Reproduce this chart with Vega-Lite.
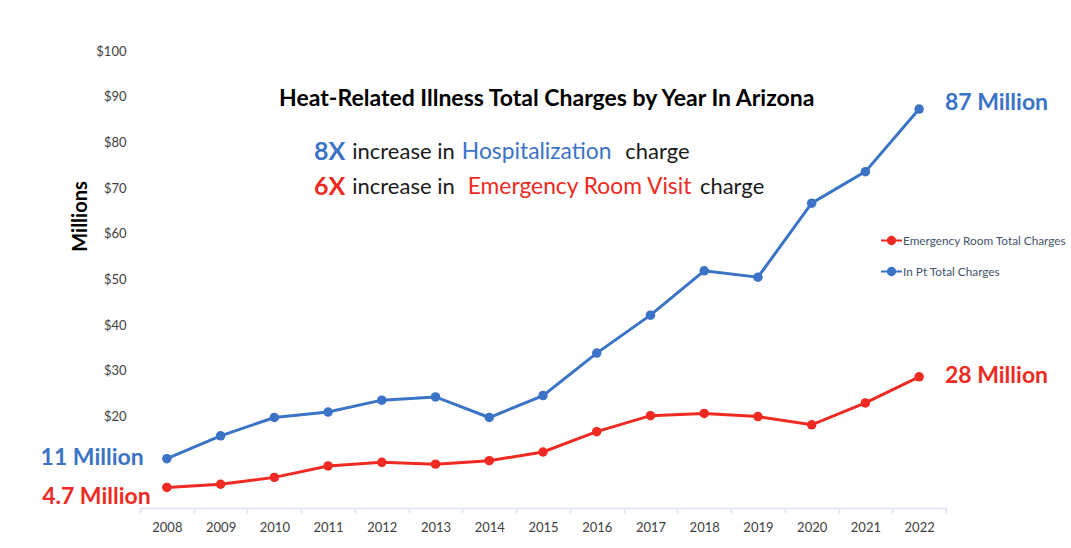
{
  "$schema": "https://vega.github.io/schema/vega-lite/v6.json",
  "width": 806,
  "height": 457,
  "autosize": {"type": "none"},
  "padding": {"left": 140, "top": 51, "right": 125, "bottom": 40},
  "background": "white",
  "config": {"view": {"stroke": null}, "font": "Lato", "text": {"font": "Lato"}},
  "datasets": {
    "series": [
      {"year": 2008, "series": "In Pt Total Charges", "value": 10.8},
      {"year": 2009, "series": "In Pt Total Charges", "value": 15.8},
      {"year": 2010, "series": "In Pt Total Charges", "value": 19.8},
      {"year": 2011, "series": "In Pt Total Charges", "value": 21.0},
      {"year": 2012, "series": "In Pt Total Charges", "value": 23.6},
      {"year": 2013, "series": "In Pt Total Charges", "value": 24.3},
      {"year": 2014, "series": "In Pt Total Charges", "value": 19.8},
      {"year": 2015, "series": "In Pt Total Charges", "value": 24.6},
      {"year": 2016, "series": "In Pt Total Charges", "value": 33.9},
      {"year": 2017, "series": "In Pt Total Charges", "value": 42.2},
      {"year": 2018, "series": "In Pt Total Charges", "value": 51.9},
      {"year": 2019, "series": "In Pt Total Charges", "value": 50.5},
      {"year": 2020, "series": "In Pt Total Charges", "value": 66.7},
      {"year": 2021, "series": "In Pt Total Charges", "value": 73.6},
      {"year": 2022, "series": "In Pt Total Charges", "value": 87.3},
      {"year": 2008, "series": "Emergency Room Total Charges", "value": 4.5},
      {"year": 2009, "series": "Emergency Room Total Charges", "value": 5.2},
      {"year": 2010, "series": "Emergency Room Total Charges", "value": 6.7},
      {"year": 2011, "series": "Emergency Room Total Charges", "value": 9.2},
      {"year": 2012, "series": "Emergency Room Total Charges", "value": 10.0},
      {"year": 2013, "series": "Emergency Room Total Charges", "value": 9.6},
      {"year": 2014, "series": "Emergency Room Total Charges", "value": 10.35},
      {"year": 2015, "series": "Emergency Room Total Charges", "value": 12.25},
      {"year": 2016, "series": "Emergency Room Total Charges", "value": 16.7},
      {"year": 2017, "series": "Emergency Room Total Charges", "value": 20.2},
      {"year": 2018, "series": "Emergency Room Total Charges", "value": 20.7},
      {"year": 2019, "series": "Emergency Room Total Charges", "value": 20.0},
      {"year": 2020, "series": "Emergency Room Total Charges", "value": 18.2},
      {"year": 2021, "series": "Emergency Room Total Charges", "value": 23.0},
      {"year": 2022, "series": "Emergency Room Total Charges", "value": 28.7}
    ]
  },
  "resolve": {"scale": {"x": "independent"}},
  "layer": [
    {
      "encoding": {
        "x": {
          "field": "year",
          "type": "ordinal",
          "bandPosition": 0.5,
          "scale": {"type": "band", "paddingInner": 0, "paddingOuter": 0},
          "axis": {
            "title": null,
            "labelAngle": 0,
            "tickBand": "extent",
            "domainColor": "#D9E1F2",
            "domainWidth": 1.5,
            "tickColor": "#D9E1F2",
            "tickWidth": 1.5,
            "tickSize": 5,
            "labelFontSize": 13,
            "labelColor": "#404040",
            "labelPadding": 8
          }
        },
        "y": {
          "field": "value",
          "type": "quantitative",
          "scale": {"domain": [0, 100], "nice": false},
          "axis": {
            "values": [20, 30, 40, 50, 60, 70, 80, 90, 100],
            "labelExpr": "'$' + datum.value",
            "ticks": false,
            "domain": false,
            "grid": false,
            "labelPadding": 14,
            "labelFontSize": 13,
            "labelColor": "#404040",
            "title": "Millions",
            "titleFontSize": 20,
            "titleFontWeight": "bold",
            "titleColor": "black",
            "titleBaseline": "middle",
            "titleX": -60,
            "titleY": 165
          }
        },
        "color": {
          "field": "series",
          "type": "nominal",
          "scale": {
            "domain": ["Emergency Room Total Charges", "In Pt Total Charges"],
            "range": ["#EE2A22", "#3B73C6"]
          },
          "legend": {
            "orient": "none",
            "legendX": 740,
            "legendY": 178,
            "title": null,
            "labelFontSize": 11.8,
            "labelColor": "#44546A",
            "labelOffset": 0,
            "labelLimit": 300,
            "rowPadding": 11,
            "symbolType": "M-1,0H1M0.35,0A0.35,0.35,0,1,1,-0.35,0A0.35,0.35,0,1,1,0.35,0Z",
            "symbolSize": 441,
            "symbolStrokeWidth": 2,
            "encode": {
              "symbols": {
                "update": {
                  "fill": {"scale": "color", "field": "value"},
                  "stroke": {"scale": "color", "field": "value"},
                  "fillOpacity": {"value": 1}
                }
              }
            }
          }
        }
      },
      "layer": [
        {"data": {"name": "series"}, "mark": {"type": "line", "strokeWidth": 3}},
        {"data": {"name": "series"}, "mark": {"type": "circle", "size": 90, "opacity": 1}}
      ]
    },
    {
      "encoding": {
        "x": {"field": "xpos", "type": "quantitative", "scale": {"domain": [2007.5, 2022.5], "nice": false, "zero": false}, "axis": null},
        "y": {"field": "yval", "type": "quantitative", "scale": {"domain": [0, 100], "nice": false}},
        "text": {"field": "label"}
      },
      "layer": [
        {
          "data": {"values": [{"xpos": 2015.07, "yval": 89.5, "label": "Heat-Related Illness Total Charges by Year In Arizona"}]},
          "mark": {"type": "text", "align": "center", "baseline": "middle", "fontSize": 23, "fontWeight": "bold", "color": "#000000"}
        },
        {
          "data": {"values": [
            {"xpos": 2010.74, "yval": 77.9, "label": "8X", "series": "In Pt Total Charges"},
            {"xpos": 2010.74, "yval": 70.2, "label": "6X", "series": "Emergency Room Total Charges"}
          ]},
          "mark": {"type": "text", "align": "left", "baseline": "middle", "fontSize": 25, "fontWeight": "bold"},
          "encoding": {"color": {"field": "series", "type": "nominal", "legend": null}}
        },
        {
          "data": {"values": [
            {"xpos": 2011.45, "yval": 77.9, "label": "increase in"},
            {"xpos": 2011.45, "yval": 70.2, "label": "increase in"},
            {"xpos": 2016.53, "yval": 77.9, "label": "charge"},
            {"xpos": 2017.92, "yval": 70.2, "label": "charge"}
          ]},
          "mark": {"type": "text", "align": "left", "baseline": "middle", "fontSize": 22, "color": "#1a1a1a"}
        },
        {
          "data": {"values": [
            {"xpos": 2013.49, "yval": 77.9, "label": "Hospitalization", "series": "In Pt Total Charges"},
            {"xpos": 2013.6, "yval": 70.2, "label": "Emergency Room Visit", "series": "Emergency Room Total Charges"}
          ]},
          "mark": {"type": "text", "align": "left", "baseline": "middle", "fontSize": 22.8},
          "encoding": {"color": {"field": "series", "type": "nominal", "legend": null}}
        },
        {
          "data": {"values": [
            {"xpos": 2022.48, "yval": 88.6, "label": "87 Million", "series": "In Pt Total Charges"},
            {"xpos": 2022.48, "yval": 28.9, "label": "28 Million", "series": "Emergency Room Total Charges"}
          ]},
          "mark": {"type": "text", "align": "left", "baseline": "middle", "fontSize": 23, "fontWeight": "bold"},
          "encoding": {"color": {"field": "series", "type": "nominal", "legend": null}}
        },
        {
          "data": {"values": [
            {"xpos": 2007.57, "yval": 10.9, "label": "11 Million", "series": "In Pt Total Charges"},
            {"xpos": 2007.7, "yval": 2.4, "label": "4.7 Million", "series": "Emergency Room Total Charges"}
          ]},
          "mark": {"type": "text", "align": "right", "baseline": "middle", "fontSize": 23, "fontWeight": "bold"},
          "encoding": {"color": {"field": "series", "type": "nominal", "legend": null}}
        }
      ]
    }
  ]
}
